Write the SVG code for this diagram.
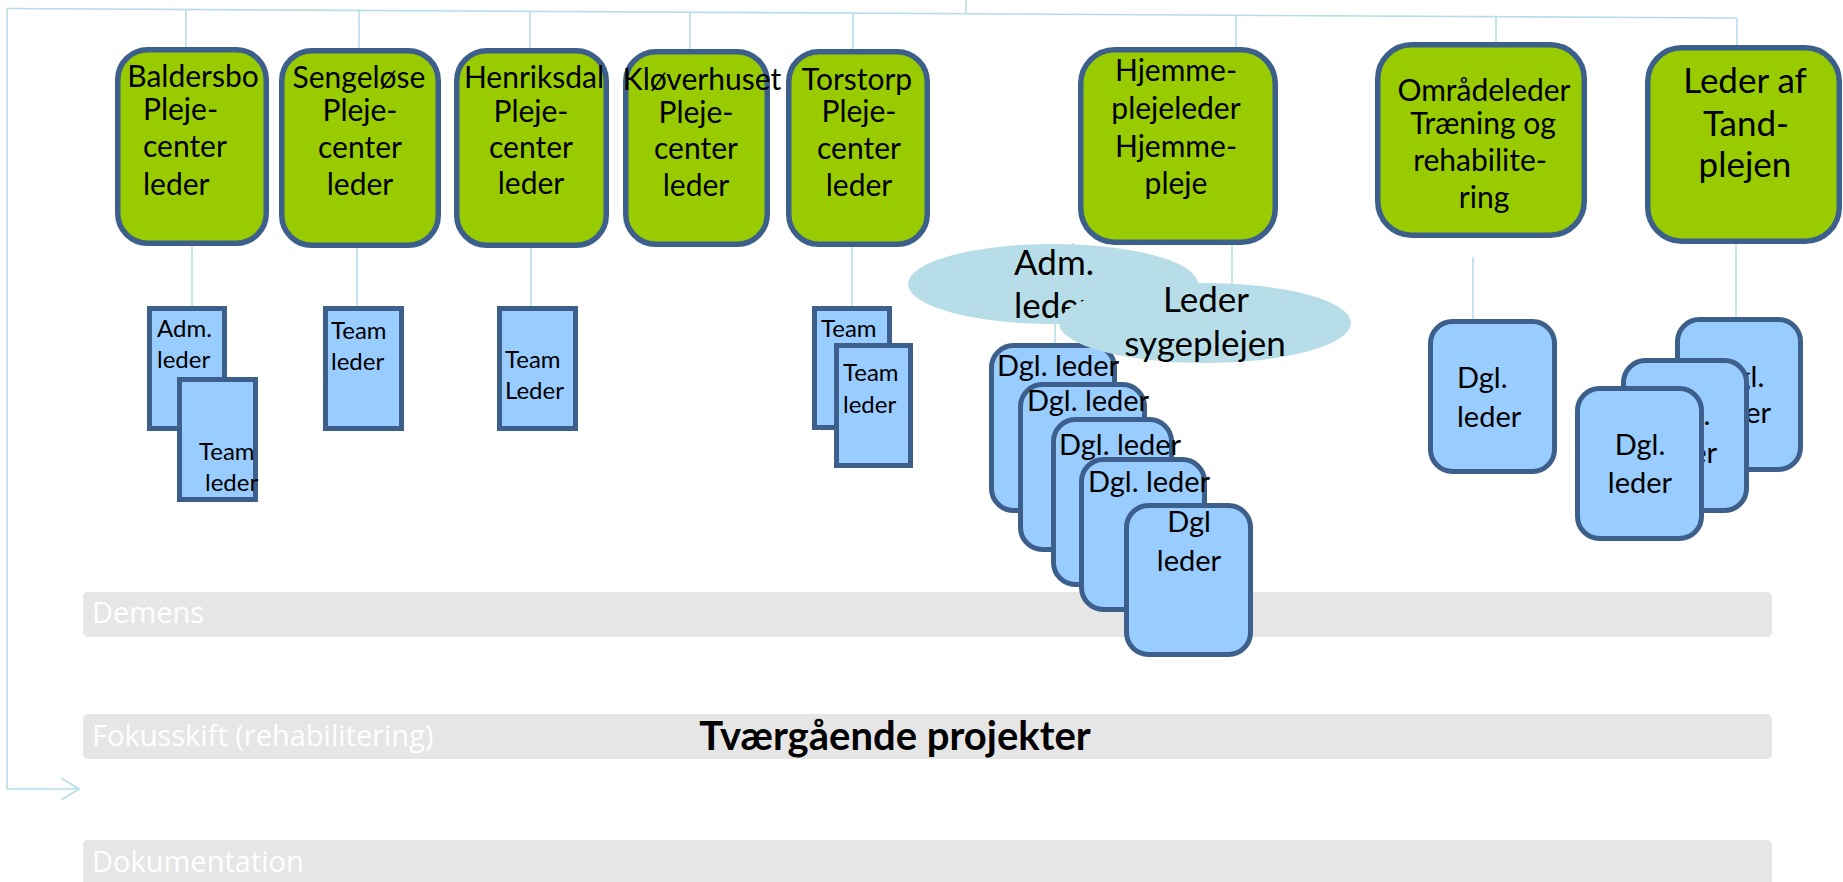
<svg xmlns="http://www.w3.org/2000/svg" width="1843" height="882" viewBox="0 0 1843 882">
<style>
.conn{stroke:#B7DEE8;stroke-width:1.6;fill:none}
.gbox{fill:#99CC00;stroke:#3C5F8C;stroke-width:5.5}
.bbox{fill:#99CCFF;stroke:#3C5F8C;stroke-width:5}
.ell{fill:#B7DEE8}
.bar{fill:#E6E6E6}
.t{font-family:Lato,"Liberation Sans",sans-serif;fill:#000}
.g{font-size:30px}
.c{text-anchor:middle}
.s{font-size:24px}
.d{font-size:29px}
.e{font-size:35px}
.bt{font-family:"Open Sans","Liberation Sans",sans-serif;font-size:29px;fill:#FFFFFF}
</style>
<defs>
<marker id="chev" markerWidth="20" markerHeight="24" refX="18" refY="12" orient="auto" markerUnits="userSpaceOnUse">
<path d="M0,1 L18,12 L0,23" fill="none" stroke="#B7DEE8" stroke-width="1.8"/>
</marker>
</defs>
<rect width="1843" height="882" fill="#FFFFFF"/>

<g id="bars">
<rect class="bar" x="83" y="592" width="1689" height="45" rx="5"/>
<text class="bt" x="92" y="623">Demens</text>
<rect class="bar" x="83" y="714" width="1689" height="45" rx="5"/>
<text class="bt" x="92" y="746">Fokusskift (rehabilitering)</text>
<rect class="bar" x="83" y="840" width="1689" height="50" rx="5"/>
<text class="bt" x="92" y="872">Dokumentation</text>
<text class="t" x="895" y="750" text-anchor="middle" font-size="40" font-weight="bold">Tværgående projekter</text>
</g>

<g id="connectors">
<path class="conn" d="M7,8.5 L1737,18"/>
<path class="conn" d="M966,0 L966,13.8"/>
<path class="conn" d="M7,8.5 L7,789 L79,789" marker-end="url(#chev)"/>
<path class="conn" d="M186,9.5 L186,50"/>
<path class="conn" d="M359,10.4 L359,51"/>
<path class="conn" d="M530,11.4 L530,51"/>
<path class="conn" d="M690,12.3 L690,51"/>
<path class="conn" d="M853,13.1 L853,51"/>
<path class="conn" d="M1236,15.3 L1236,50"/>
<path class="conn" d="M1496,16.7 L1496,45"/>
<path class="conn" d="M1737,18 L1737,50"/>
<path class="conn" d="M192,245 L192,307"/>
<path class="conn" d="M357,247 L357,307"/>
<path class="conn" d="M531,247 L531,307"/>
<path class="conn" d="M852,246 L852,307"/>
<path class="conn" d="M1232,243 L1232,290"/>
<path class="conn" d="M1073,243 L1073,252"/>
<path class="conn" d="M1055,322 L1055,346"/>
<path class="conn" d="M1473,257 L1473,322"/>
<path class="conn" d="M1736,243 L1736,320"/>
</g>

<g id="baldersbo">
<rect class="gbox" x="117.75" y="49.75" width="148.5" height="193.5" rx="30"/>
<text class="t g c" x="193" y="87">Baldersbo</text>
<text class="t g" x="143" y="120">Pleje-</text>
<text class="t g" x="143" y="157">center</text>
<text class="t g" x="143" y="195">leder</text>
</g>
<g id="sengeloese">
<rect class="gbox" x="281.75" y="50.75" width="156.5" height="194.5" rx="30"/>
<text class="t g c" x="359" y="88">Sengeløse</text>
<text class="t g c" x="360" y="121">Pleje-</text>
<text class="t g c" x="360" y="158">center</text>
<text class="t g c" x="360" y="195">leder</text>
</g>
<g id="henriksdal">
<rect class="gbox" x="456.75" y="50.75" width="149.5" height="194.5" rx="30"/>
<text class="t g c" x="534" y="88">Henriksdal</text>
<text class="t g c" x="531" y="122">Pleje-</text>
<text class="t g c" x="531" y="158">center</text>
<text class="t g c" x="531" y="194">leder</text>
</g>
<g id="kloeverhuset">
<rect class="gbox" x="625.75" y="51.75" width="141.5" height="192.5" rx="30"/>
<text class="t g c" x="702" y="90">Kløverhuset</text>
<text class="t g c" x="696" y="123">Pleje-</text>
<text class="t g c" x="696" y="159">center</text>
<text class="t g c" x="696" y="196">leder</text>
</g>
<g id="torstorp">
<rect class="gbox" x="788.75" y="51.75" width="138.5" height="192.5" rx="30"/>
<text class="t g c" x="857" y="90">Torstorp</text>
<text class="t g c" x="859" y="122">Pleje-</text>
<text class="t g c" x="859" y="159">center</text>
<text class="t g c" x="859" y="196">leder</text>
</g>
<g id="hjemmepleje">
<rect class="gbox" x="1080.75" y="49.75" width="194.5" height="192.5" rx="34"/>
<text class="t g c" x="1176" y="81">Hjemme-</text>
<text class="t g c" x="1176" y="119">plejeleder</text>
<text class="t g c" x="1176" y="157">Hjemme-</text>
<text class="t g c" x="1176" y="194">pleje</text>
</g>
<g id="omraadeleder">
<rect class="gbox" x="1377.75" y="44.75" width="206.5" height="190.5" rx="34"/>
<text class="t g c" x="1484" y="101">Områdeleder</text>
<text class="t g c" x="1483" y="134">Træning og</text>
<text class="t g c" x="1480" y="171">rehabilite-</text>
<text class="t g c" x="1484" y="208">ring</text>
</g>
<g id="tandplejen">
<rect class="gbox" x="1647.75" y="47.75" width="191.5" height="193.5" rx="34"/>
<text class="t c" font-size="35" x="1745" y="93">Leder af</text>
<text class="t c" font-size="35" x="1746" y="136">Tand-</text>
<text class="t c" font-size="35" x="1745" y="177">plejen</text>
</g>

<g id="adm-leder-baldersbo">
<rect class="bbox" x="149.5" y="308.5" width="75" height="120"/>
<text class="t s" x="157" y="337">Adm.</text>
<text class="t s" x="157" y="368">leder</text>
</g>
<g id="team-leder-baldersbo">
<rect class="bbox" x="179.5" y="379.5" width="76" height="120"/>
<text class="t s" x="199" y="460">Team</text>
<text class="t s" x="205" y="491">leder</text>
</g>
<g id="team-leder-sengeloese">
<rect class="bbox" x="325.5" y="308.5" width="76" height="120"/>
<text class="t s" x="331" y="339">Team</text>
<text class="t s" x="331" y="370">leder</text>
</g>
<g id="team-leder-henriksdal">
<rect class="bbox" x="499.5" y="308.5" width="76" height="120"/>
<text class="t s" x="505" y="368">Team</text>
<text class="t s" x="505" y="399">Leder</text>
</g>
<g id="team-torstorp-1">
<rect class="bbox" x="814.5" y="308.5" width="75" height="119"/>
<text class="t s" x="821" y="337">Team</text>
</g>
<g id="team-leder-torstorp-2">
<rect class="bbox" x="836.5" y="345.5" width="74" height="120"/>
<text class="t s" x="843" y="381">Team</text>
<text class="t s" x="843" y="413">leder</text>
</g>

<g id="dgl-hjemme-1">
<rect class="bbox" x="991.5" y="345.5" width="123" height="165" rx="22"/>
</g>
<g id="adm-leder-hjemme">
<ellipse class="ell" cx="1053" cy="284" rx="145" ry="40"/>
<text class="t e" x="1014" y="275">Adm.</text>
<text class="t e" x="1014" y="318">leder</text>
</g>
<g id="leder-sygeplejen">
<ellipse class="ell" cx="1205" cy="323" rx="146" ry="40"/>
<text class="t e c" x="1206" y="312">Leder</text>
<text class="t e c" x="1205" y="356">sygeplejen</text>
</g>
<g id="dgl-hjemme-1-label">
<text class="t d" x="997" y="376">Dgl. leder</text>
</g>
<g id="dgl-hjemme-2">
<rect class="bbox" x="1020.5" y="384.5" width="124" height="165" rx="22"/>
<text class="t d" x="1027" y="411">Dgl. leder</text>
</g>
<g id="dgl-hjemme-3">
<rect class="bbox" x="1053.5" y="419.5" width="118" height="165" rx="22"/>
<text class="t d" x="1059" y="455">Dgl. leder</text>
</g>
<g id="dgl-hjemme-4">
<rect class="bbox" x="1081.5" y="459.5" width="123" height="150" rx="22"/>
<text class="t d" x="1088" y="492">Dgl. leder</text>
</g>
<g id="dgl-hjemme-5">
<rect class="bbox" x="1126.5" y="505.5" width="124" height="149" rx="22"/>
<text class="t d c" x="1189" y="532">Dgl</text>
<text class="t d c" x="1189" y="571">leder</text>
</g>

<g id="dgl-omraade">
<rect class="bbox" x="1430.5" y="321.5" width="124" height="150" rx="22"/>
<text class="t d" x="1457" y="388">Dgl.</text>
<text class="t d" x="1457" y="427">leder</text>
</g>

<g id="dgl-tand-3">
<rect class="bbox" x="1677.5" y="319.5" width="123" height="150" rx="22"/>
<text class="t d c" x="1739" y="387">Dgl.</text>
<text class="t d c" x="1739" y="423">leder</text>
</g>
<g id="dgl-tand-2">
<rect class="bbox" x="1623.5" y="360.5" width="123" height="150" rx="22"/>
<text class="t d c" x="1685" y="425">Dgl.</text>
<text class="t d c" x="1685" y="463">leder</text>
</g>
<g id="dgl-tand-1">
<rect class="bbox" x="1577.5" y="388.5" width="124" height="150" rx="22"/>
<text class="t d c" x="1640" y="455">Dgl.</text>
<text class="t d c" x="1640" y="493">leder</text>
</g>
</svg>
